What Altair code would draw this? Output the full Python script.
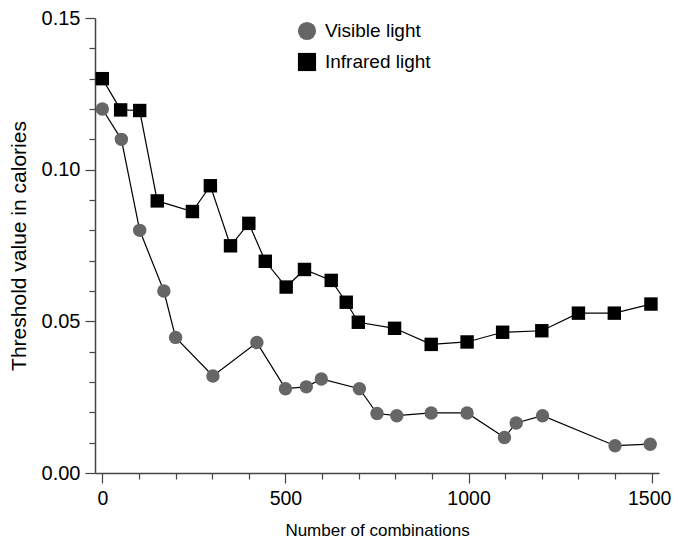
import altair as alt
import pandas as pd

vis_x = [0, 52, 102, 168, 200, 302, 422, 500, 557, 598, 702, 750, 804, 898, 996, 1098, 1130, 1202, 1400, 1496]
vis_y = [0.120, 0.110, 0.080, 0.060, 0.0447, 0.032, 0.043, 0.0278, 0.0284, 0.031, 0.0278, 0.0196,
         0.0189, 0.0198, 0.0198, 0.0117, 0.0165, 0.0189, 0.0090, 0.0095]

ir_x = [0, 50, 102, 150, 246, 295, 350, 400, 445, 502, 552, 625, 666, 699, 798, 898, 996, 1093,
        1200, 1300, 1398, 1498]
ir_y = [0.130, 0.1197, 0.1195, 0.0897, 0.0862, 0.0947, 0.0749, 0.0823, 0.0698, 0.0613, 0.0671,
        0.0635, 0.0563, 0.0497, 0.0477, 0.0424, 0.0432, 0.0464, 0.0469, 0.0527, 0.0527, 0.0557]

series_names = ["Visible light", "Infrared light"]
x_ticks = list(range(0, 1501, 100))
y_ticks = [round(i * 0.01, 2) for i in range(0, 16)]

rows = []
for i, (x, y) in enumerate(zip(vis_x, vis_y)):
    rows.append({"n": x, "t": y, "series": series_names[0], "o": i})
for i, (x, y) in enumerate(zip(ir_x, ir_y)):
    rows.append({"n": x, "t": y, "series": series_names[1], "o": i})
df = pd.DataFrame(rows)

FONT = "Liberation Sans"

x_enc = alt.X(
    "n:Q",
    scale=alt.Scale(domain=[-20, 1520], nice=False, zero=False),
    axis=alt.Axis(
        title="Number of combinations",
        values=x_ticks,
        labelExpr="datum.value % 500 === 0 ? datum.label : ''",
        tickSize={"expr": "datum.value % 500 === 0 ? 10 : 6"},
        labelOffset={"expr": "datum.value === 1500 ? -2.5 : 0"},
        grid=False,
        labelOverlap=False,
        labelPadding=6,
        labelFontSize=19.5,
        titleFontSize=17,
        titlePadding=15,
        format="d",
    ),
)
y_enc = alt.Y(
    "t:Q",
    scale=alt.Scale(domain=[0, 0.15], nice=False),
    axis=alt.Axis(
        title="Threshold value in calories",
        values=y_ticks,
        labelExpr="round(datum.value * 100) % 5 === 0 ? format(datum.value, '.2f') : ''",
        tickSize={"expr": "round(datum.value * 100) % 5 === 0 ? 10 : 6"},
        grid=False,
        labelOverlap=False,
        labelPadding=5,
        labelFontSize=20,
        titleFontSize=21,
        titlePadding=12,
    ),
)

base = alt.Chart(df).encode(x=x_enc, y=y_enc)

lines = base.mark_line(color="black", strokeWidth=1.2).encode(
    detail="series:N", order="o:Q"
)

points = base.mark_point(filled=True, opacity=1, size=180).encode(
    color=alt.Color(
        "series:N",
        scale=alt.Scale(domain=series_names, range=["#666666", "#000000"]),
        legend=alt.Legend(
            title=None,
            orient="none",
            legendX=202,
            legendY=3,
            symbolSize=330,
            labelFontSize=19,
            labelFont=FONT,
            labelColor="black",
            labelOffset=8,
            rowPadding=11,
            symbolOpacity=1,
        ),
    ),
    shape=alt.Shape(
        "series:N",
        scale=alt.Scale(domain=series_names, range=["circle", "square"]),
        legend=None,
    ),
)

chart = (
    alt.layer(lines, points)
    .properties(
        width=564,
        height=455,
        autosize=alt.AutoSizeParams(type="none"),
        padding={"left": 87, "top": 10, "right": 12, "bottom": 68},
    )
    .configure_view(stroke=None)
    .configure_axis(
        domainColor="#444444",
        tickColor="#444444",
        domainWidth=1.5,
        tickWidth=1.2,
        labelFont=FONT,
        titleFont=FONT,
        labelColor="black",
        titleColor="black",
        titleFontWeight="normal",
    )
)

chart.save("out.html", embed_options={"renderer": "svg", "actions": False})
